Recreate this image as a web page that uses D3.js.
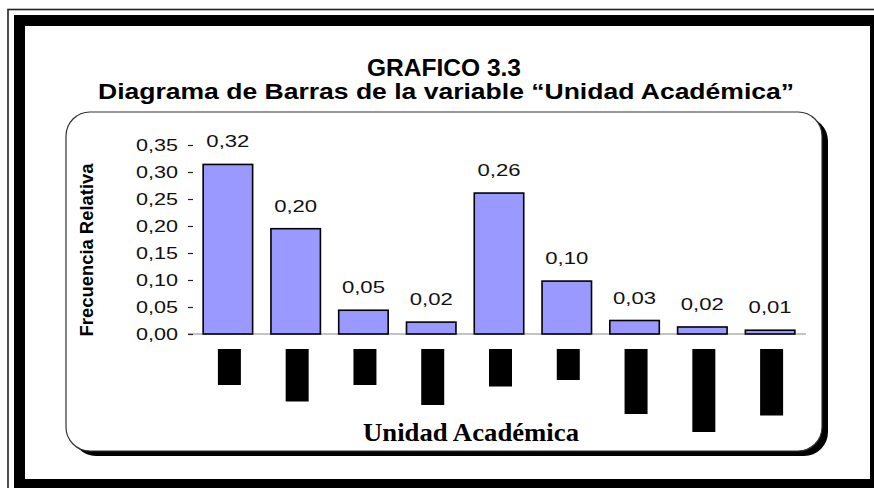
<!DOCTYPE html>
<html>
<head>
<meta charset="utf-8">
<script src="https://cdn.jsdelivr.net/npm/d3@7"></script>
<style>
  body { margin: 0; background: #fff; }
  svg { display: block; }
</style>
</head>
<body>
<svg id="chart" width="874" height="488"></svg>
<script>
// categories are blacked out in the source, so only indexes are kept
const categories = ["c1", "c2", "c3", "c4", "c5", "c6", "c7", "c8", "c9"];
const relFreq = [0.314, 0.195, 0.044, 0.022, 0.261, 0.098, 0.025, 0.013, 0.007];
const freqLabels = ["0,32", "0,20", "0,05", "0,02", "0,26", "0,10", "0,03", "0,02", "0,01"];
// bottom of each redacted category label (px below the axis)
const hiddenLabelLen = [36, 52.5, 36, 56, 37.5, 31, 65, 83, 66.5];
const yTicks = [0, 0.05, 0.10, 0.15, 0.20, 0.25, 0.30, 0.35];

const svg = d3.select("#chart");

// frame
svg.append("rect")
    .attr("x", 8).attr("y", 9.5).attr("width", 900).attr("height", 900)
    .attr("fill", "none").attr("stroke", "#222").attr("stroke-width", 1.6);
svg.append("rect")
    .attr("x", 19.5).attr("y", 20.5).attr("width", 856).attr("height", 464)
    .attr("fill", "#fff").attr("stroke", "#000").attr("stroke-width", 11);

// rounded plot box with shadow
const box = {x: 66, y: 112, w: 756, h: 339, r: 24};
svg.append("rect")
    .attr("x", box.x + 6).attr("y", box.y + 5)
    .attr("width", box.w).attr("height", box.h)
    .attr("rx", box.r).attr("ry", box.r)
    .attr("fill", "#000");
svg.append("rect")
    .attr("x", box.x).attr("y", box.y)
    .attr("width", box.w).attr("height", box.h)
    .attr("rx", box.r).attr("ry", box.r)
    .attr("fill", "#fff").attr("stroke", "#333").attr("stroke-width", 1.2);

function addText(x, y, str, size, len, opts = {}) {
    let t = svg.append("text")
        .attr("x", x).attr("y", y)
        .attr("text-anchor", opts.anchor || "middle")
        .attr("font-family", opts.family || "Arial, 'Liberation Sans', sans-serif")
        .attr("font-size", size)
        .attr("font-weight", opts.weight || "normal")
        .attr("fill", opts.color || "#000")
        .text(str);
    if (len) t.attr("textLength", len).attr("lengthAdjust", "spacingAndGlyphs");
    if (opts.rotate) t.attr("transform", `rotate(${opts.rotate}, ${x}, ${y})`);
    return t;
}

// titles
addText(444, 76, "GRAFICO 3.3", 23, 154, {weight: "bold"});
addText(446, 99, "Diagrama de Barras de la variable \u201cUnidad Acad\u00e9mica\u201d", 22, 696, {weight: "bold"});

// scales
const scX = d3.scaleBand()
    .domain(categories)
    .range([194, 804])
    .paddingInner(0.27)
    .paddingOuter(0.135);

const scY = d3.scaleLinear()
    .domain([0, 0.35])
    .range([334, 145]);

// baseline
svg.append("line")
    .attr("x1", 188).attr("x2", 806)
    .attr("y1", scY(0)).attr("y2", scY(0))
    .attr("stroke", "#888").attr("stroke-width", 1.2);

// y ticks
const axisY = d3.axisLeft(scY)
    .tickValues(yTicks)
    .tickSize(5)
    .tickFormat("");
const gY = svg.append("g")
    .attr("transform", "translate(193, 0)")
    .call(axisY);
gY.select(".domain").remove();
gY.selectAll(".tick line").attr("stroke", "#222").attr("stroke-width", 1.2);

yTicks.forEach(v => {
    addText(178, scY(v) + 6, d3.format(".2f")(v).replace(".", ","), 17, 42, {anchor: "end", color: "#111"});
});

// bars
svg.selectAll(".bar")
    .data(relFreq)
    .enter()
    .append("rect")
    .attr("class", "bar")
    .attr("x", (d, i) => scX(categories[i]))
    .attr("width", scX.bandwidth())
    .attr("y", d => scY(d))
    .attr("height", d => scY(0) - scY(d))
    .attr("fill", "#9999FF")
    .attr("stroke", "#000")
    .attr("stroke-width", 1.6);

relFreq.forEach((d, i) => {
    addText(scX(categories[i]) + scX.bandwidth() / 2, scY(d) - 17, freqLabels[i], 17, 43, {color: "#111"});
});

// redacted category labels
svg.selectAll(".hidden-label")
    .data(hiddenLabelLen)
    .enter()
    .append("rect")
    .attr("class", "hidden-label")
    .attr("x", (d, i) => scX(categories[i]) + scX.bandwidth() / 2 - 10)
    .attr("width", 23)
    .attr("y", scY(0) + 15)
    .attr("height", d => d)
    .attr("fill", "#000");

// axis titles
addText(93, 250, "Frecuencia Relativa", 18, 173, {weight: "bold", rotate: -90});
addText(471, 441, "Unidad Acad\u00e9mica", 26, 216, {weight: "bold", family: "'Times New Roman', 'Liberation Serif', serif"});
</script>
</body>
</html>
